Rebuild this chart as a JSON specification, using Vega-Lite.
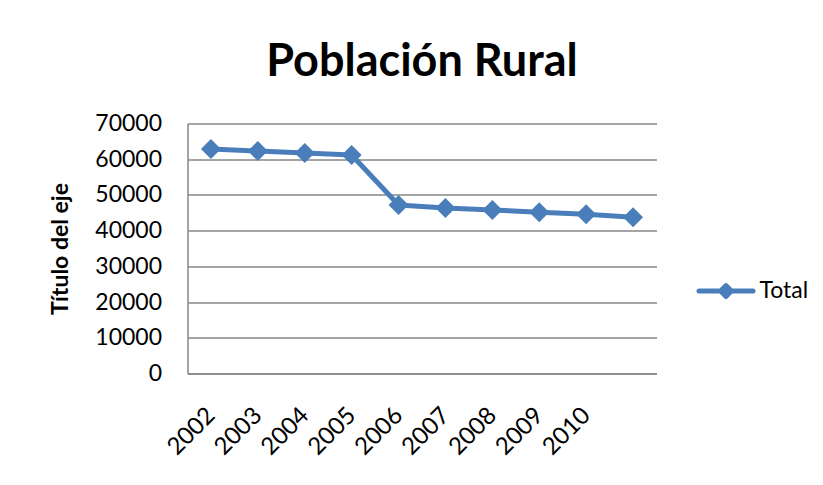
{
  "$schema": "https://vega.github.io/schema/vega-lite/v6.json",
  "width": 469,
  "height": 250,
  "autosize": {"type": "none"},
  "padding": {"left": 187.5, "top": 123.5, "right": 166.5, "bottom": 111.5},
  "background": "white",
  "title": {
    "text": "Población Rural",
    "font": "Lato",
    "fontSize": 45,
    "fontWeight": "bold",
    "color": "#000000",
    "anchor": "middle",
    "baseline": "alphabetic",
    "offset": -8
  },
  "config": {
    "view": {"stroke": null},
    "font": "Lato"
  },
  "data": {
    "values": [
      {"anio": "2002", "total": 62870, "serie": "Total"},
      {"anio": "2003", "total": 62300, "serie": "Total"},
      {"anio": "2004", "total": 61750, "serie": "Total"},
      {"anio": "2005", "total": 61190, "serie": "Total"},
      {"anio": "2006", "total": 47190, "serie": "Total"},
      {"anio": "2007", "total": 46350, "serie": "Total"},
      {"anio": "2008", "total": 45790, "serie": "Total"},
      {"anio": "2009", "total": 45140, "serie": "Total"},
      {"anio": "2010", "total": 44580, "serie": "Total"},
      {"anio": "", "total": 43740, "serie": "Total"}
    ]
  },
  "encoding": {
    "x": {
      "field": "anio",
      "type": "ordinal",
      "sort": null,
      "scale": {"type": "point", "padding": 0.5},
      "axis": {
        "title": null,
        "ticks": false,
        "grid": false,
        "domainColor": "#868686",
        "domainWidth": 1.5,
        "labelFont": "Lato",
        "labelFontSize": 24,
        "labelColor": "#000000",
        "labelAngle": -45,
        "labelAlign": "right",
        "labelBaseline": "middle",
        "labelPadding": 38,
        "labelOffset": 0
      }
    },
    "y": {
      "field": "total",
      "type": "quantitative",
      "scale": {"domain": [0, 70000], "nice": false},
      "axis": {
        "values": [0, 10000, 20000, 30000, 40000, 50000, 60000, 70000],
        "format": "d",
        "ticks": false,
        "grid": true,
        "gridColor": "#878787",
        "gridWidth": 1.5,
        "domainColor": "#868686",
        "domainWidth": 1.5,
        "labelFont": "Lato",
        "labelFontSize": 23,
        "labelColor": "#000000",
        "labelPadding": 26,
        "title": "Título del eje",
        "titleFont": "Lato",
        "titleFontSize": 23,
        "titleFontWeight": "bold",
        "titleColor": "#000000",
        "titlePadding": 22
      }
    },
    "color": {
      "field": "serie",
      "type": "nominal",
      "scale": {"range": ["#4A7EBB"]},
      "legend": {
        "title": null,
        "orient": "none",
        "legendX": 509,
        "legendY": 138,
        "symbolType": "M-1,0L1,0M0,-0.2L0.2,0L0,0.2L-0.2,0Z",
        "symbolSize": 2916,
        "symbolStrokeWidth": 5,
        "symbolFillColor": "#4A7EBB",
        "symbolStrokeColor": "#4A7EBB",
        "symbolOpacity": 1,
        "labelFont": "Lato",
        "labelFontSize": 23,
        "labelColor": "#000000",
        "labelOffset": 4,
        "encode": {"symbols": {"update": {"strokeCap": {"value": "round"}, "strokeJoin": {"value": "round"}}}}
      }
    }
  },
  "layer": [
    {"mark": {"type": "line", "strokeWidth": 5, "strokeCap": "round", "strokeJoin": "round"}},
    {"mark": {"type": "point", "shape": "diamond", "filled": true, "size": 400, "opacity": 1}}
  ]
}
